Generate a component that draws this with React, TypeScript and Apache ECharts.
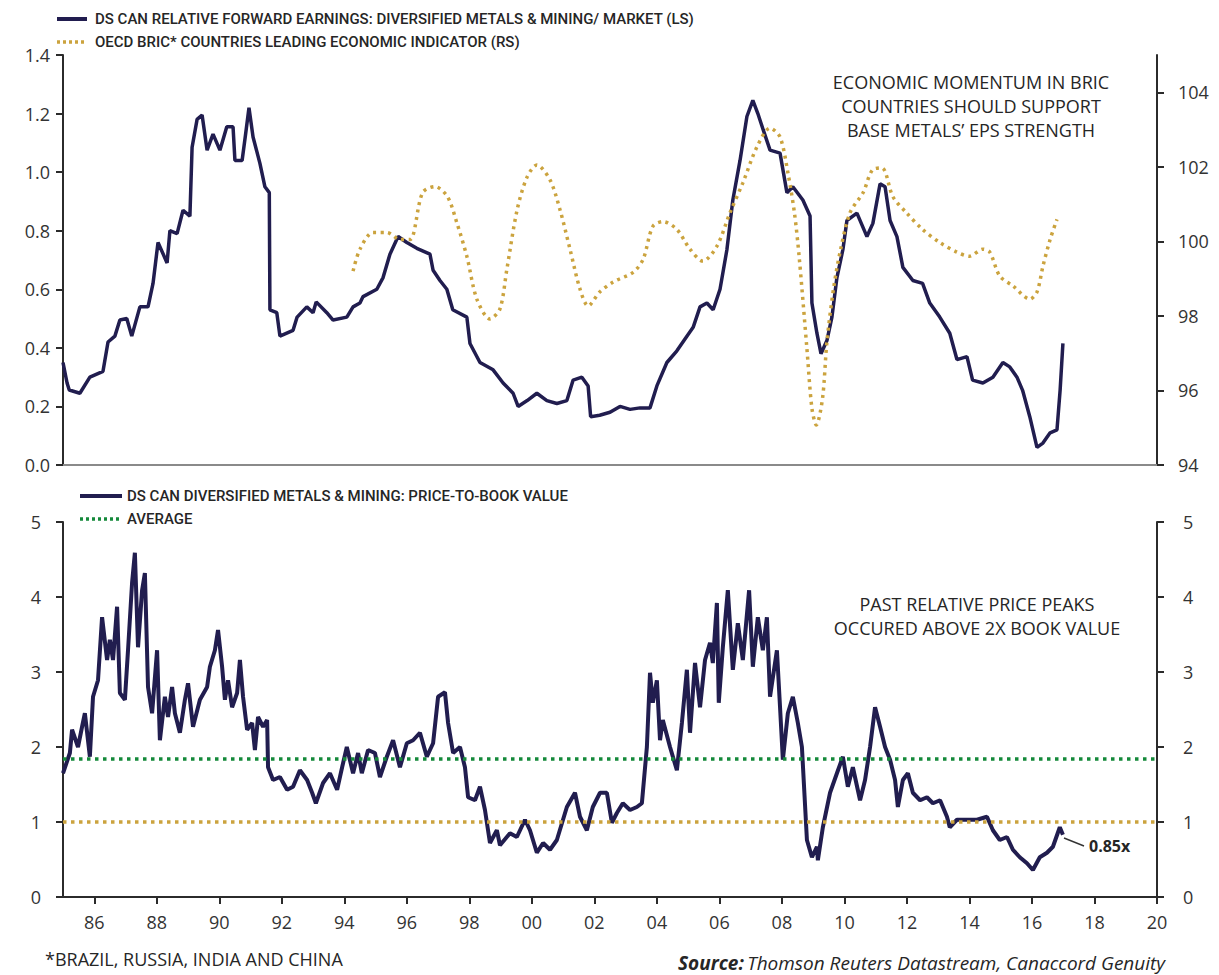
import React, { useEffect, useRef } from "react";
import * as echarts from "echarts";

// ---------- DATA ----------
const epsYears = [1985.0,1985.13,1985.2,1985.54,1985.86,1986.28,1986.44,1986.66,1986.82,1987.04,1987.2,1987.46,1987.72,1987.88,1988.04,1988.33,1988.42,1988.65,1988.84,1989.06,1989.13,1989.29,1989.45,1989.61,1989.8,1990.02,1990.24,1990.44,1990.5,1990.73,1990.83,1990.95,1991.08,1991.3,1991.46,1991.6,1991.62,1991.84,1991.94,1992.36,1992.49,1992.8,1993.0,1993.1,1993.44,1993.64,1994.08,1994.28,1994.5,1994.6,1995.04,1995.24,1995.46,1995.72,1996.0,1996.32,1996.74,1996.84,1997.06,1997.28,1997.47,1997.92,1998.02,1998.34,1998.76,1999.08,1999.4,1999.56,1999.85,2000.16,2000.48,2000.8,2001.12,2001.32,2001.6,2001.8,2001.88,2002.17,2002.5,2002.82,2003.14,2003.46,2003.78,2004.0,2004.32,2004.64,2004.96,2005.16,2005.38,2005.6,2005.8,2006.02,2006.24,2006.43,2006.66,2006.88,2007.07,2007.23,2007.4,2007.62,2007.94,2008.16,2008.35,2008.67,2008.9,2008.96,2009.12,2009.25,2009.44,2009.6,2009.76,2009.95,2010.08,2010.4,2010.72,2010.91,2011.14,2011.3,2011.46,2011.68,2011.87,2012.19,2012.5,2012.73,2013.05,2013.37,2013.6,2013.92,2014.1,2014.43,2014.75,2015.07,2015.29,2015.52,2015.7,2015.93,2016.16,2016.35,2016.58,2016.8,2016.9,2016.99];
const epsValues = [0.35,0.28,0.256,0.245,0.30,0.32,0.42,0.44,0.495,0.50,0.44,0.54,0.54,0.62,0.76,0.69,0.80,0.79,0.87,0.85,1.085,1.18,1.195,1.075,1.13,1.075,1.155,1.155,1.04,1.04,1.12,1.22,1.12,1.03,0.95,0.93,0.53,0.52,0.44,0.46,0.505,0.54,0.52,0.557,0.52,0.495,0.505,0.54,0.553,0.575,0.60,0.64,0.72,0.78,0.76,0.74,0.72,0.665,0.63,0.60,0.53,0.505,0.415,0.35,0.325,0.28,0.245,0.20,0.22,0.245,0.22,0.21,0.22,0.29,0.30,0.27,0.165,0.17,0.18,0.20,0.19,0.195,0.195,0.27,0.35,0.39,0.44,0.47,0.54,0.553,0.53,0.60,0.735,0.905,1.04,1.19,1.245,1.20,1.145,1.075,1.065,0.93,0.95,0.905,0.85,0.553,0.45,0.38,0.425,0.505,0.64,0.735,0.835,0.86,0.78,0.825,0.96,0.95,0.835,0.78,0.675,0.63,0.62,0.553,0.505,0.45,0.36,0.37,0.29,0.28,0.30,0.35,0.335,0.30,0.255,0.165,0.06,0.075,0.11,0.12,0.255,0.415];

const leiYears = [1994.28,1994.5,1994.92,1995.36,1995.78,1996.1,1996.5,1996.9,1997.3,1997.6,1997.92,1998.24,1998.66,1998.98,1999.2,1999.53,1999.85,2000.16,2000.58,2000.9,2001.22,2001.54,2001.8,2002.17,2002.6,2003.24,2003.56,2003.87,2004.2,2004.64,2005.06,2005.47,2005.92,2006.34,2006.75,2007.2,2007.62,2007.94,2008.2,2008.4,2008.55,2008.8,2008.96,2009.1,2009.3,2009.44,2009.65,2009.86,2010.18,2010.6,2010.9,2011.2,2011.55,2011.98,2012.5,2013.05,2013.6,2014.0,2014.43,2014.65,2014.97,2015.4,2015.93,2016.16,2016.35,2016.58,2016.8];
const leiValues = [99.2,99.79,100.24,100.24,100.05,100.05,101.3,101.47,101.2,100.5,99.6,98.45,97.92,98.19,99.25,100.85,101.73,102.05,101.65,100.85,99.79,98.72,98.27,98.64,98.91,99.17,99.52,100.4,100.53,100.32,99.79,99.47,99.87,100.77,101.57,102.53,103.04,102.8,101.8,100.77,99.6,97.12,95.52,95.07,95.79,97.31,98.72,99.71,100.77,101.31,101.92,101.97,101.2,100.77,100.32,99.97,99.71,99.6,99.79,99.71,99.07,98.8,98.45,98.64,99.33,100.05,100.59];

const pbYears = [1985.0,1985.22,1985.29,1985.48,1985.61,1985.7,1985.86,1985.96,1986.12,1986.25,1986.41,1986.5,1986.6,1986.73,1986.82,1986.98,1987.08,1987.21,1987.3,1987.4,1987.53,1987.62,1987.72,1987.85,1988.01,1988.1,1988.26,1988.36,1988.49,1988.58,1988.74,1988.9,1989.0,1989.16,1989.38,1989.61,1989.7,1989.86,1989.96,1990.09,1990.18,1990.28,1990.41,1990.57,1990.66,1990.76,1990.89,1991.05,1991.14,1991.24,1991.4,1991.53,1991.56,1991.72,1991.94,1992.17,1992.36,1992.58,1992.81,1992.97,1993.09,1993.32,1993.54,1993.77,1993.93,1994.08,1994.28,1994.44,1994.56,1994.76,1994.98,1995.14,1995.36,1995.56,1995.78,1996.0,1996.2,1996.42,1996.64,1996.84,1997.0,1997.22,1997.32,1997.48,1997.7,1997.86,1997.96,1998.18,1998.34,1998.5,1998.66,1998.88,1998.98,1999.3,1999.52,1999.78,1999.94,2000.16,2000.36,2000.58,2000.8,2001.12,2001.38,2001.54,2001.76,2001.95,2002.18,2002.4,2002.56,2002.72,2002.91,2003.14,2003.36,2003.52,2003.68,2003.78,2003.87,2004.0,2004.1,2004.19,2004.42,2004.64,2004.8,2004.96,2005.06,2005.22,2005.38,2005.54,2005.7,2005.79,2005.92,2005.98,2006.11,2006.27,2006.43,2006.59,2006.75,2006.95,2007.07,2007.23,2007.39,2007.52,2007.62,2007.84,2007.94,2008.03,2008.19,2008.35,2008.51,2008.64,2008.8,2008.96,2009.12,2009.15,2009.31,2009.54,2009.76,2009.95,2010.11,2010.27,2010.5,2010.66,2010.82,2010.98,2011.14,2011.3,2011.46,2011.62,2011.71,2011.87,2012.03,2012.19,2012.42,2012.64,2012.83,2013.06,2013.28,2013.37,2013.6,2013.92,2014.24,2014.56,2014.75,2014.97,2015.2,2015.39,2015.61,2015.84,2016.03,2016.25,2016.48,2016.67,2016.89,2016.99];
const pbValues = [1.65,1.92,2.23,2.0,2.27,2.45,1.87,2.67,2.89,3.73,3.16,3.43,3.16,3.87,2.72,2.63,3.29,4.19,4.59,3.33,4.09,4.32,2.8,2.45,3.29,2.09,2.67,2.4,2.8,2.45,2.19,2.63,2.85,2.27,2.63,2.8,3.07,3.29,3.56,3.07,2.63,2.89,2.53,2.72,3.16,2.67,2.23,2.32,1.96,2.4,2.27,2.36,1.73,1.56,1.6,1.43,1.47,1.69,1.56,1.39,1.25,1.52,1.65,1.43,1.73,2.0,1.65,1.92,1.65,1.96,1.92,1.6,1.87,2.09,1.73,2.05,2.09,2.19,1.87,2.05,2.67,2.73,2.32,1.92,2.0,1.73,1.33,1.29,1.47,1.16,0.72,0.89,0.69,0.85,0.80,1.03,0.89,0.59,0.72,0.63,0.76,1.2,1.39,1.07,0.89,1.2,1.39,1.39,0.99,1.12,1.25,1.16,1.2,1.25,2.0,2.99,2.59,2.89,2.09,2.36,2.0,1.69,2.32,3.03,2.19,3.12,2.53,3.16,3.39,3.12,3.92,2.59,3.33,4.09,3.03,3.65,3.16,4.09,3.07,3.73,3.29,3.73,2.67,3.29,2.53,1.83,2.45,2.67,2.32,2.0,0.76,0.53,0.67,0.49,0.93,1.39,1.65,1.87,1.47,1.73,1.29,1.56,2.0,2.53,2.27,2.0,1.83,1.56,1.2,1.56,1.65,1.39,1.29,1.33,1.25,1.29,1.07,0.93,1.03,1.03,1.03,1.07,0.89,0.76,0.8,0.63,0.53,0.45,0.36,0.53,0.59,0.67,0.93,0.83];

const averagePB = 1.84;
const oneTimesBook = 1.0;
const xStart = 1985;
const xEnd = 2020;
const yearTicks = [1986,1988,1990,1992,1994,1996,1998,2000,2002,2004,2006,2008,2010,2012,2014,2016,2018,2020];
const leiTicks = [94,96,98,100,102,104];

const legendTop = [
  "DS CAN RELATIVE FORWARD EARNINGS: DIVERSIFIED METALS & MINING/ MARKET (LS)",
  "OECD BRIC* COUNTRIES LEADING ECONOMIC INDICATOR (RS)",
];
const legendBottom = ["DS CAN DIVERSIFIED METALS & MINING: PRICE-TO-BOOK VALUE", "AVERAGE"];

const NAVY = "#211d4f";
const GOLD = "#cba33e";
const GREEN = "#14893a";
const AXIS = "#2b2b2b";
const TXT = "#262626";

const zip = (xs: number[], ys: number[]) => xs.map((x, i) => [x, ys[i]]);

export default function App() {
  const ref = useRef<HTMLDivElement>(null);
  useEffect(() => {
    if (!ref.current) return;
    const chart = echarts.init(ref.current, null, { renderer: "svg" });
    const axisFont = { fontFamily: "'Open Sans'", fontSize: 18, fontWeight: 500, color: "#333" };
    const legendFont = "500 15px 'Liberation Sans Narrow', 'Roboto', sans-serif";
    const noteFont = "500 18px 'Open Sans', sans-serif";
    const yBase = {
      type: "value" as const,
      splitLine: { show: false },
      axisLine: { show: true, lineStyle: { color: AXIS, width: 2 } },
      axisTick: { show: true, length: 7, lineStyle: { color: AXIS, width: 2 } },
      axisLabel: { ...axisFont, margin: 13 },
    };
    chart.setOption({
      animation: false,
      backgroundColor: "#ffffff",
      grid: [
        { left: 63, right: 62, top: 55, height: 410 },
        { left: 63, right: 62, top: 522, height: 375 },
      ],
      xAxis: [
        {
          type: "value", gridIndex: 0, min: xStart, max: xEnd,
          axisLine: { show: true, lineStyle: { color: "#8a8a8a", width: 2 } },
          axisTick: { show: false }, axisLabel: { show: false }, splitLine: { show: false },
        },
        {
          type: "value", gridIndex: 1, min: xStart, max: xEnd,
          axisLine: { show: true, lineStyle: { color: AXIS, width: 2 } },
          axisTick: { show: true, length: 7, customValues: yearTicks, lineStyle: { color: AXIS, width: 2 } },
          axisLabel: { ...axisFont, margin: 16, customValues: yearTicks, formatter: (v: number) => String(v).slice(2) },
          splitLine: { show: false },
        },
      ],
      yAxis: [
        { ...yBase, gridIndex: 0, position: "left", min: 0, max: 1.4, interval: 0.2,
          axisLabel: { ...axisFont, margin: 13, formatter: (v: number) => v.toFixed(1) } },
        { ...yBase, gridIndex: 0, position: "right", min: 94, max: 105,
          axisTick: { ...yBase.axisTick, customValues: leiTicks },
          axisLabel: { ...axisFont, margin: 21, customValues: leiTicks } },
        { ...yBase, gridIndex: 1, position: "left", min: 0, max: 5, interval: 1,
          axisLabel: { ...axisFont, margin: 22 } },
        { ...yBase, gridIndex: 1, position: "right", min: 0, max: 5, interval: 1,
          axisLabel: { ...axisFont, margin: 26 } },
      ],
      series: [
        {
          name: "eps", type: "line", xAxisIndex: 0, yAxisIndex: 0, showSymbol: false,
          data: zip(epsYears, epsValues), lineStyle: { color: NAVY, width: 3.5 }, z: 2,
        },
        {
          name: "lei", type: "line", xAxisIndex: 0, yAxisIndex: 1, showSymbol: false, smooth: 0.3,
          data: zip(leiYears, leiValues), lineStyle: { color: GOLD, width: 3.5, type: [3, 4.5], cap: "butt" }, z: 3,
        },
        {
          name: "pb", type: "line", xAxisIndex: 1, yAxisIndex: 2, showSymbol: false,
          data: zip(pbYears, pbValues), lineStyle: { color: NAVY, width: 4 }, z: 2,
        },
        {
          name: "avg", type: "line", xAxisIndex: 1, yAxisIndex: 2, showSymbol: false,
          data: [[xStart, averagePB], [xEnd, averagePB]],
          lineStyle: { color: GREEN, width: 3.5, type: [3.5, 4.5], cap: "butt" }, z: 3,
        },
        {
          name: "one", type: "line", xAxisIndex: 1, yAxisIndex: 2, showSymbol: false,
          data: [[xStart, oneTimesBook], [xEnd, oneTimesBook]],
          lineStyle: { color: GOLD, width: 3.5, type: [3.5, 4.5], cap: "butt" }, z: 3,
        },
      ],
      graphic: [
        { type: "line", shape: { x1: 57, y1: 19, x2: 87, y2: 19 }, style: { stroke: NAVY, lineWidth: 4 } },
        { type: "text", x: 95, y: 19, style: { text: legendTop[0], font: legendFont, fill: TXT, verticalAlign: "middle" } },
        { type: "line", shape: { x1: 57, y1: 42, x2: 87, y2: 42 }, style: { stroke: GOLD, lineWidth: 3.5, lineDash: [3, 3] } },
        { type: "text", x: 95, y: 42, style: { text: legendTop[1], font: legendFont, fill: TXT, verticalAlign: "middle" } },
        { type: "line", shape: { x1: 80, y1: 496, x2: 122, y2: 496 }, style: { stroke: NAVY, lineWidth: 4 } },
        { type: "text", x: 127, y: 496, style: { text: legendBottom[0], font: legendFont, fill: TXT, verticalAlign: "middle" } },
        { type: "line", shape: { x1: 80, y1: 519, x2: 122, y2: 519 }, style: { stroke: GREEN, lineWidth: 3.5, lineDash: [3, 3] } },
        { type: "text", x: 127, y: 519, style: { text: legendBottom[1], font: legendFont, fill: TXT, verticalAlign: "middle" } },
        {
          type: "text", x: 971, y: 106,
          style: {
            text: "ECONOMIC MOMENTUM IN BRIC\nCOUNTRIES SHOULD SUPPORT\nBASE METALS\u2019 EPS STRENGTH",
            font: noteFont, fill: TXT, align: "center", verticalAlign: "middle", lineHeight: 24,
          },
        },
        {
          type: "text", x: 977, y: 616,
          style: {
            text: "PAST RELATIVE PRICE PEAKS\nOCCURED ABOVE 2X BOOK VALUE",
            font: noteFont, fill: TXT, align: "center", verticalAlign: "middle", lineHeight: 24,
          },
        },
        { type: "line", shape: { x1: 1064, y1: 838, x2: 1084, y2: 846 }, style: { stroke: "#333", lineWidth: 1.5 } },
        { type: "text", x: 1089, y: 846, style: { text: "0.85x", font: "bold 16px 'Open Sans', sans-serif", fill: TXT, verticalAlign: "middle" } },
        { type: "text", x: 45, y: 959, style: { text: "*BRAZIL, RUSSIA, INDIA AND CHINA", font: "500 18px 'Open Sans', sans-serif", fill: TXT, verticalAlign: "middle" } },
        {
          type: "text", x: 678, y: 963,
          style: {
            text: "{b|Source:} {i|Thomson Reuters Datastream, Canaccord Genuity}",
            verticalAlign: "middle",
            rich: {
              b: { font: "italic bold 19px 'Open Sans', sans-serif", fill: TXT },
              i: { font: "italic 19px 'Open Sans', sans-serif", fill: TXT },
            },
          },
        },
      ],
    });
    return () => chart.dispose();
  }, []);
  return (
    <div
      ref={ref}
      style={{ position: "absolute", left: 0, top: 0, width: 1219, height: 975, background: "#fff" }}
    />
  );
}
